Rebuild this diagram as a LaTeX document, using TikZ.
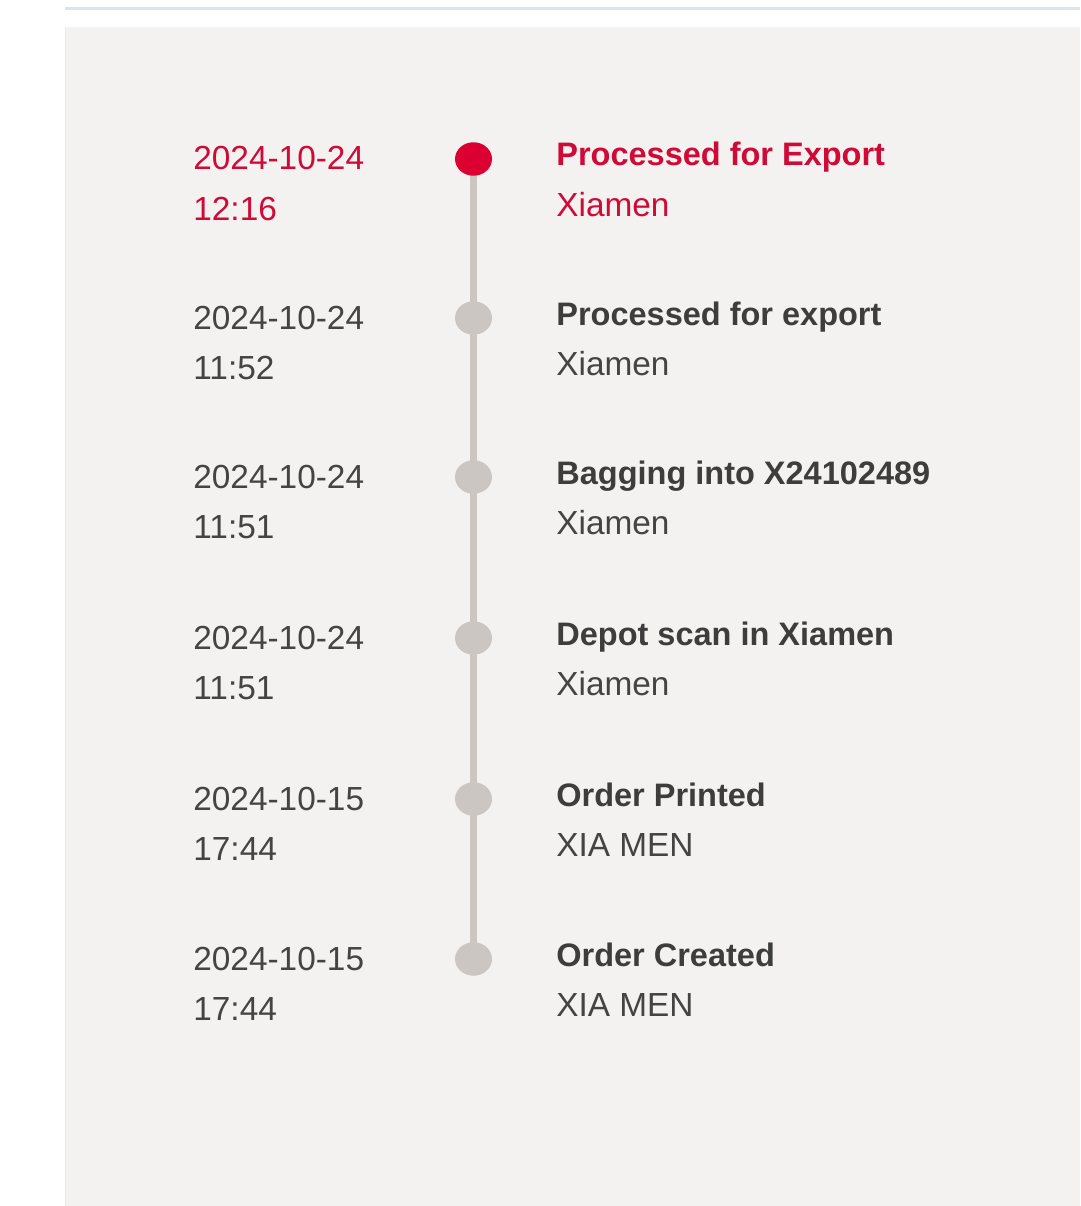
\documentclass[tikz,border=0pt]{standalone}
\usepackage{fontspec}
\setmainfont{Liberation Sans}
\usepackage{tikz}
\usetikzlibrary{backgrounds,shapes.geometric}
\definecolor{hotred}{HTML}{DC0032}
\definecolor{hottext}{HTML}{CF0A36}
\definecolor{dotgray}{HTML}{CBC6C1}
\definecolor{panelgray}{HTML}{F4F2F1}
\definecolor{inkgray}{HTML}{444444}
\definecolor{rulegray}{HTML}{DDE5EC}
\def\graydot{\node[ellipse,fill=dotgray,minimum width=0.74cm,minimum height=0.67cm,inner sep=0pt]}
\def\reddot{\node[ellipse,fill=hotred,minimum width=0.74cm,minimum height=0.67cm,inner sep=0pt]}

\begin{document}
\begin{tikzpicture}[x=0.02cm,y=-0.02cm,inner sep=0pt,
  stamp/.style={anchor=base west,text=inkgray,font=\fontsize{19}{23}\selectfont},
  event/.style={stamp,font=\fontsize{18.5}{23}\selectfont\bfseries,text=inkgray!90!black},
  hot/.style={text=hottext}]
\useasboundingbox (0,0) rectangle (1080,1206);
\begin{scope}[on background layer]
\fill[white] (0,0) rectangle (1080,1206);
\fill[panelgray] (65,27) rectangle (1080,1206);
\fill[rulegray] (65,7) rectangle (1080,10);
\draw[black!8,line width=0.5pt] (65,27) -- (65,1206);
\end{scope}
\reddot (dot1) at (473.5,159) {};
\graydot (dot2) at (473.5,318) {};
\graydot (dot3) at (473.5,477) {};
\graydot (dot4) at (473.5,638) {};
\graydot (dot5) at (473.5,799) {};
\graydot (dot6) at (473.5,959) {};
\node[stamp,hot] (date1) at (193,170) {2024-10-24};
\node[stamp,hot] (time1) at (193,220) {12:16};
\node[event,hot] (title1) at (556,166) {Processed for Export};
\node[stamp,hot] (place1) at (556,216) {Xiamen};
\node[stamp] (date2) at (193,329) {2024-10-24};
\node[stamp] (time2) at (193,379) {11:52};
\node[event] (title2) at (556,325) {Processed for export};
\node[stamp] (place2) at (556,375) {Xiamen};
\node[stamp] (date3) at (193,488) {2024-10-24};
\node[stamp] (time3) at (193,538) {11:51};
\node[event] (title3) at (556,484) {Bagging into X24102489};
\node[stamp] (place3) at (556,534) {Xiamen};
\node[stamp] (date4) at (193,649) {2024-10-24};
\node[stamp] (time4) at (193,699) {11:51};
\node[event] (title4) at (556,645) {Depot scan in Xiamen};
\node[stamp] (place4) at (556,695) {Xiamen};
\node[stamp] (date5) at (193,810) {2024-10-15};
\node[stamp] (time5) at (193,860) {17:44};
\node[event] (title5) at (556,806) {Order Printed};
\node[stamp] (place5) at (556,856) {XIA MEN};
\node[stamp] (date6) at (193,970) {2024-10-15};
\node[stamp] (time6) at (193,1020) {17:44};
\node[event] (title6) at (556,966) {Order Created};
\node[stamp] (place6) at (556,1016) {XIA MEN};
\begin{scope}[on background layer]
\draw[dotgray,line width=0.14cm] (dot1.center) -- (dot6.center);
\end{scope}
\end{tikzpicture}
\end{document}
